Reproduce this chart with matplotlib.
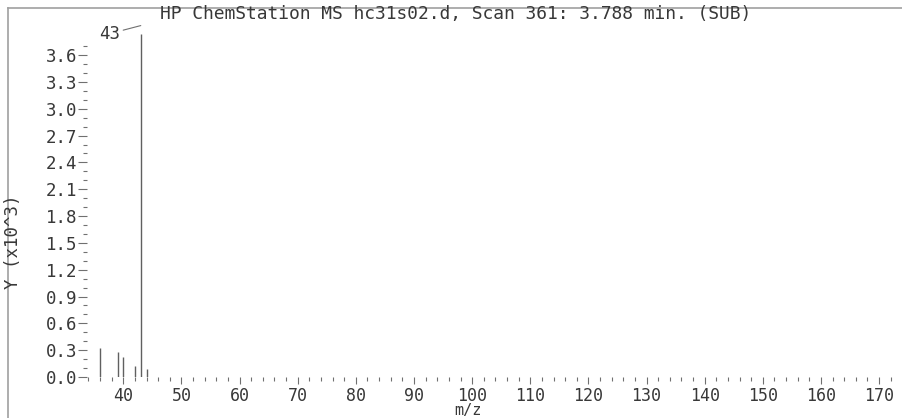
import matplotlib.pyplot as plt
from matplotlib.lines import Line2D

# peaks (m/z, abundance in thousands)
mz = [36, 39, 40, 42, 43, 44]
abund = [0.32, 0.28, 0.22, 0.12, 3.84, 0.085]
title = "HP ChemStation MS hc31s02.d, Scan 361: 3.788 min. (SUB)"

W, H = 903, 418
fig = plt.figure(figsize=(W / 100, H / 100), dpi=100)
ax = fig.add_axes([87 / W, 1 - 377 / H, (900 - 87) / W, (377 - 22) / H])

txt = "#383838"
grey = "#707070"
mono = "DejaVu Sans Mono"

ax.vlines(mz, 0, abund, color="#606060", linewidth=1.0)
ax.set_xlim(33.75, 173.6)
ax.set_ylim(0, 3.97)

for s in ax.spines.values():
    s.set_visible(False)

ax.set_xticks(range(40, 171, 10))
ax.set_xticks(range(34, 173, 2), minor=True)
ax.set_yticks([i * 0.3 for i in range(13)])
ax.set_yticklabels([f"{i * 0.3:.1f}" for i in range(13)])
ax.set_yticks([i * 0.1 for i in range(38)], minor=True)

ax.tick_params(axis="x", which="major", length=5, width=0.8, color=grey,
               labelsize=12, labelcolor=txt, pad=2)
ax.tick_params(axis="x", which="minor", length=3, width=0.8, color=grey)
ax.tick_params(axis="y", which="major", length=6.5, width=0.8, color=grey,
               labelsize=12.5, labelcolor=txt, pad=0.5)
ax.tick_params(axis="y", which="minor", length=3, width=0.8, color=grey)
for lab in ax.get_xticklabels() + ax.get_yticklabels():
    lab.set_family(mono)

ax.annotate("43", xy=(43.0, 3.93), xytext=(39.5, 3.84), ha="right", va="center",
            fontsize=12.5, family=mono, color=txt,
            arrowprops=dict(arrowstyle="-", color=grey, lw=0.8,
                            shrinkA=0, shrinkB=0))

fig.text(160 / W, 1 - 14 / H, title, ha="left", va="center",
         fontsize=12.9, family=mono, color=txt)
fig.text(13 / W, 1 - 242 / H, "Y (x10^3)", rotation=90, ha="center", va="center",
         fontsize=12.5, family=mono, color=txt)
fig.text(468 / W, 1 - 411 / H, "m/z", ha="center", va="center",
         fontsize=11, family=mono, color=txt)

# outer frame (cut off at right and bottom)
fig.add_artist(Line2D([7.5 / W, 7.5 / W], [0, 1 - 7.5 / H], transform=fig.transFigure,
                      color="#a0a0a0", lw=1.2))
fig.add_artist(Line2D([7.5 / W, 1], [1 - 7.5 / H, 1 - 7.5 / H], transform=fig.transFigure,
                      color="#a0a0a0", lw=1.2))

fig.savefig("out.png", dpi=100)
